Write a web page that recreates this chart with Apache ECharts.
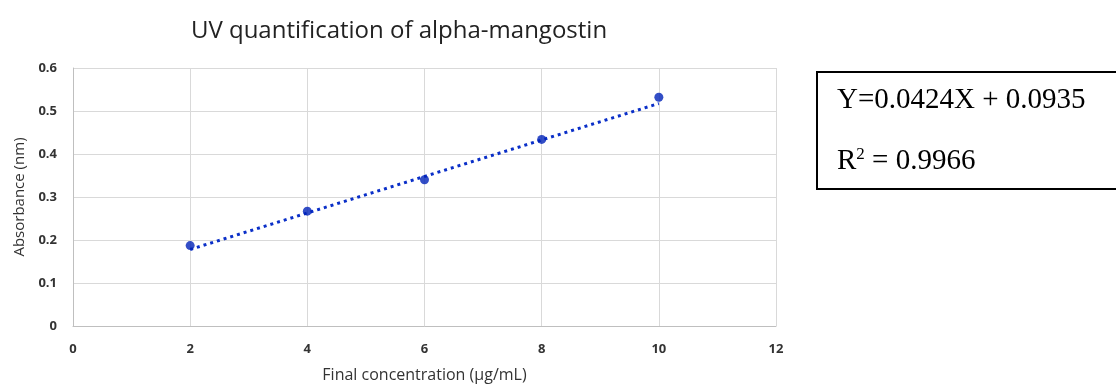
<!DOCTYPE html>
<html><head><meta charset="utf-8">
<script src="https://cdn.jsdelivr.net/npm/echarts@6/dist/echarts.min.js"></script>
<style>html,body{margin:0;padding:0;background:#fff}#c{width:1116px;height:387px}</style>
</head><body><div id="c"></div>
<script>
const titleText = 'UV quantification of alpha-mangostin';
const xName = 'Final concentration (µg/mL)';
const yName = 'Absorbance (nm)';
const concentrations = [2, 4, 6, 8, 10];
const absorbances = [0.187, 0.267, 0.340, 0.434, 0.532];
const trendX = [2, 10];
const trendY = [0.178, 0.5175];
const equationText = 'Y=0.0424X + 0.0935';
const r2Value = '0.9966';

const chart = echarts.init(document.getElementById('c'));
const lab = {fontFamily: 'Open Sans', fontSize: 13, fontWeight: 'bold', color: '#333'};
chart.setOption({
  animation: false,
  title: {text: titleText, left: 394, top: 14, textAlign: 'center',
    textStyle: {fontFamily: 'Open Sans', fontSize: 24, fontWeight: 'normal', color: '#222'}},
  grid: {left: 73, right: 340, top: 68, bottom: 61, containLabel: false, outerBoundsMode: 'none'},
  xAxis: {type: 'value', min: 0, max: 12, interval: 2,
    name: xName, nameLocation: 'middle', nameGap: 41,
    nameTextStyle: {fontFamily: 'Open Sans', fontSize: 16, color: '#333'},
    axisLine: {lineStyle: {color: '#bfbfbf'}}, axisTick: {show: false},
    axisLabel: Object.assign({margin: 17}, lab),
    splitLine: {show: true, lineStyle: {color: '#d9d9d9'}}},
  yAxis: {type: 'value', min: 0, max: 0.6, interval: 0.1,
    name: yName, nameLocation: 'middle', nameGap: 45, nameRotate: 90,
    nameTextStyle: {fontFamily: 'Open Sans', fontSize: 15, color: '#333'},
    axisLine: {show: true, lineStyle: {color: '#bfbfbf'}}, axisTick: {show: false},
    axisLabel: Object.assign({margin: 16}, lab),
    splitLine: {show: true, lineStyle: {color: '#d9d9d9'}}},
  series: [
    {type: 'line', data: trendX.map((x, i) => [x, trendY[i]]), symbol: 'none',
     lineStyle: {color: '#0a2fc8', width: 3, type: [3, 4], cap: 'butt'}, z: 2},
    {type: 'scatter', data: concentrations.map((x, i) => [x, absorbances[i]]),
     symbolSize: 9, itemStyle: {color: '#0022b8'}, z: 3}
  ],
  graphic: [
    {type: 'rect', shape: {x: 817, y: 72, width: 320, height: 117},
     style: {fill: '#fff', stroke: '#000', lineWidth: 2}},
    {type: 'text', left: 837, top: 86, style: {text: equationText,
      font: '29px "Liberation Serif"', fill: '#000'}},
    {type: 'text', left: 837, top: 146, style: {
      text: '{a|R}{s|2}{a| = ' + r2Value + '}',
      rich: {a: {fontFamily: 'Liberation Serif', fontSize: 29, color: '#000'},
             s: {fontFamily: 'Liberation Serif', fontSize: 17, color: '#000', verticalAlign: 'top', padding: [0,0,13,0]}}}}
  ]
});
</script></body></html>
